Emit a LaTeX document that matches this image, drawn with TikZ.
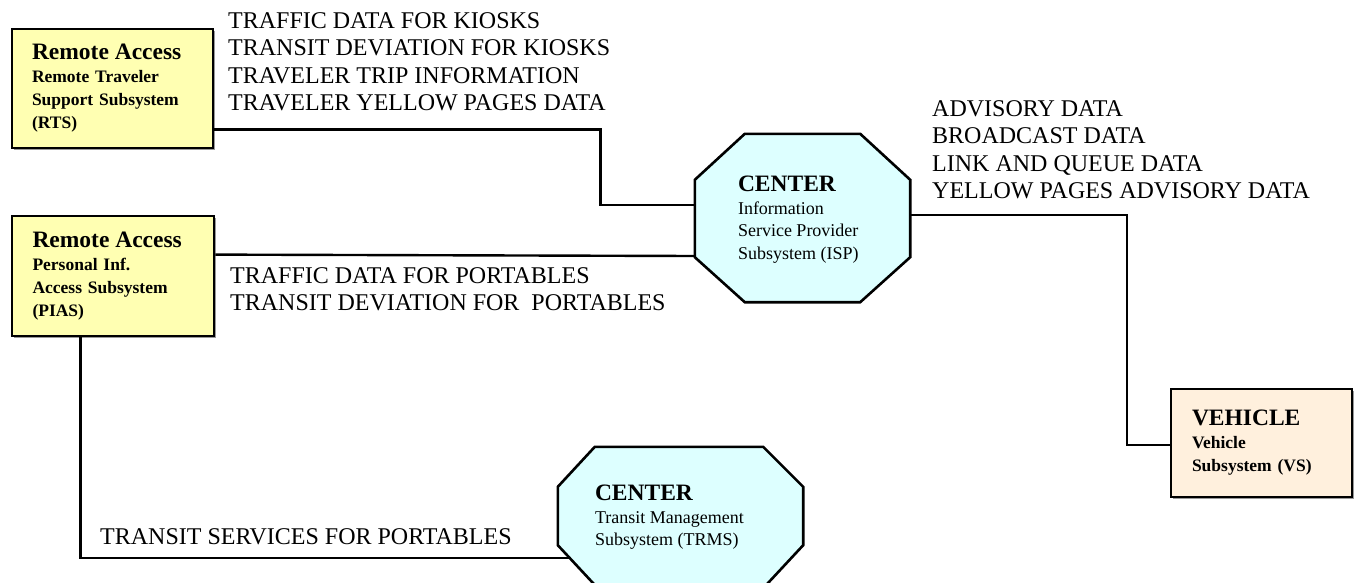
\documentclass[tikz,border=0pt]{standalone}
\usepackage{fontspec}
\setmainfont{Liberation Serif}
\usetikzlibrary{shadows,calc}
\definecolor{boxyellow}{RGB}{255,255,178}
\definecolor{boxpeach}{RGB}{255,240,221}
\definecolor{centercyan}{RGB}{221,255,255}
\tikzset{
  termbox/.style={draw=black, line width=2.8pt, inner sep=0pt, align=left,
    font=\fontsize{17.5}{23}\selectfont\bfseries,
    drop shadow={shadow xshift=2pt, shadow yshift=-2pt, fill=black!40, opacity=1}},
  flow/.style={draw=black, line width=2.4pt},
  octa/.style={draw=black, line width=2.6pt, fill=centercyan, line join=miter},
  frame/.style={inner sep=0pt, draw=none},
  ctext/.style={inner sep=0pt, align=left, anchor=north west, font=\fontsize{18}{22.5}\selectfont},
  lbl/.style={inner sep=0pt, align=left, anchor=north west, font=\fontsize{24}{27.6}\selectfont},
}
\newcommand{\ttlfont}[1]{{\fontsize{23.5}{25}\selectfont\bfseries #1}}
\begin{document}
\begin{tikzpicture}[x=1pt, y=-1pt]
\useasboundingbox (0,0) rectangle (1354,582);
\begin{scope}
\clip (0,0) rectangle (1354,582);
\fill[white] (0,0) rectangle (1354,582);

% terminator boxes
\node[termbox, fill=boxyellow, minimum width=201pt, minimum height=119pt, text width=161pt] (rts) at (112.5,88.5)
  {\ttlfont{Remote Access}\\Remote Traveler\\Support Subsystem\\(RTS)};
\node[termbox, fill=boxyellow, minimum width=202pt, minimum height=120pt, text width=161pt] (pias) at (113,276)
  {\ttlfont{Remote Access}\\Personal Inf.\\Access Subsystem\\(PIAS)};
\node[termbox, fill=boxpeach, minimum width=181pt, minimum height=108pt, text width=139pt] (vs) at (1261.5,443)
  {\ttlfont{VEHICLE}\\Vehicle\\Subsystem (VS)};

% center octagons (frames)
\node[frame, minimum width=215pt, minimum height=168pt] (isp) at (802.5,218) {};
\node[frame, minimum width=245pt, minimum height=141pt] (trms) at (680.5,517.5) {};

\draw[octa] ($(isp.north west)+(50,0)$) -- ($(isp.north east)+(-50,0)$)
  -- ($(isp.north east)+(0,46)$) -- ($(isp.south east)+(0,-45)$)
  -- ($(isp.south east)+(-50,0)$) -- ($(isp.south west)+(50,0)$)
  -- ($(isp.south west)+(0,-45)$) -- ($(isp.north west)+(0,46)$) -- cycle;
\draw[octa] ($(trms.north west)+(37,0)$) -- ($(trms.north east)+(-40,0)$)
  -- ($(trms.north east)+(0,40)$) -- ($(trms.south east)+(0,-43)$)
  -- ($(trms.south east)+(-40,0)$) -- ($(trms.south west)+(40,0)$)
  -- ($(trms.south west)+(0,-43)$) -- ($(trms.north west)+(0,40)$) -- cycle;

\node[ctext] (ispt) at ($(isp.north west)+(43,42)$)
  {\ttlfont{CENTER}\\Information\\Service Provider\\Subsystem (ISP)};
\node[ctext] (trmst) at ($(trms.north west)+(37,38)$)
  {\ttlfont{CENTER}\\Transit Management\\Subsystem (TRMS)};

% connectors
\draw[flow] ($(rts.south east)+(0,-20)$) -- ++(386,0) |- ($(isp.west)+(0,-13)$);
\draw[flow] ($(pias.north east)+(0,40)$) -- ($(isp.west)+(1,38)$);
\draw[flow] ($(isp.east)+(0,-3)$) -- ++(217,0) |- ($(vs.west)+(0,2)$);
\draw[flow] ($(pias.south west)+(70,0)$) |- ($(trms.west)+(13,40.5)$);

% flow labels
\node[lbl] (kiosk) at (228,12)
  {TRAFFIC DATA FOR KIOSKS\\TRANSIT DEVIATION FOR KIOSKS\\TRAVELER TRIP INFORMATION\\TRAVELER YELLOW PAGES DATA};
\node[lbl] (portable) at (230,267)
  {TRAFFIC DATA FOR PORTABLES\\TRANSIT DEVIATION FOR~ PORTABLES};
\node[lbl] (vehicle) at (932,100)
  {ADVISORY DATA\\BROADCAST DATA\\LINK AND QUEUE DATA\\YELLOW PAGES ADVISORY DATA};
\node[lbl] (service) at (100,528)
  {TRANSIT SERVICES FOR PORTABLES};
\end{scope}
\end{tikzpicture}
\end{document}
